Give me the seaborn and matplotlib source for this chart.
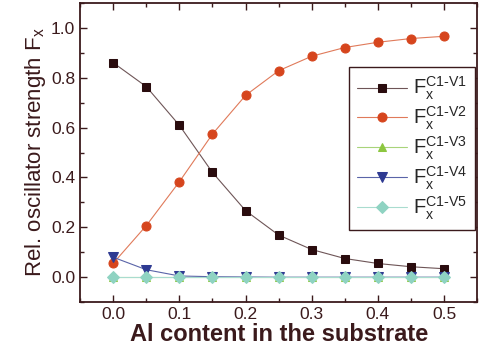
import numpy as np
import pandas as pd
import seaborn as sns
import matplotlib.pyplot as plt
from matplotlib.ticker import MultipleLocator

# Data
al = [0.0, 0.05, 0.1, 0.15, 0.2, 0.25, 0.3, 0.35, 0.4, 0.45, 0.5]
v1 = [0.860, 0.764, 0.609, 0.420, 0.267, 0.169, 0.111, 0.075, 0.055, 0.042, 0.034]
v2 = [0.056, 0.207, 0.383, 0.574, 0.729, 0.828, 0.886, 0.921, 0.942, 0.957, 0.966]
v3 = [0.0, 0.0, 0.0, 0.0, 0.0, 0.0, 0.0, 0.0, 0.0, 0.0, 0.0]
v4 = [0.080, 0.030, 0.005, 0.002, 0.001, 0.0, 0.0, 0.0, 0.0, 0.0, 0.0]
v5 = [0.0, 0.0, 0.0, 0.0, 0.0, 0.0, 0.0, 0.0, 0.0, 0.0, 0.0]

names = [r'$\mathregular{F_x^{C1\text{-}V%d}}$' % i for i in range(1, 6)]
series = [v1, v2, v3, v4, v5]

frames = []
for name, vals in zip(names, series):
    frames.append(pd.DataFrame({'Al': al, 'F': vals, 'band': name}))
data = pd.concat(frames, ignore_index=True)

sns.set_style("ticks")
plt.rcParams['font.family'] = ['Liberation Sans', 'DejaVu Sans']
plt.rcParams['mathtext.fontset'] = 'custom'
plt.rcParams['mathtext.rm'] = 'Liberation Sans'

ink = '#3b1a1c'
marker_cols = ['#2a0c0e', '#d6451d', '#8cc63f', '#2e3a92', '#8fd3c2']
line_cols = ['#6e5557', '#e07a5a', '#a8d47a', '#5a64a8', '#a9dccf']
markers = ['s', 'o', '^', 'v', 'D']
sizes = [5.8, 6.5, 6.0, 7.0, 6.0]

fig, ax = plt.subplots(figsize=(4.8, 3.58), dpi=100)
fig.subplots_adjust(left=0.167, right=0.994, bottom=0.156, top=0.992)

for i, name in enumerate(names):
    sub = data[data['band'] == name]
    sns.lineplot(data=sub, x='Al', y='F', ax=ax, color=line_cols[i], lw=0.8,
                 marker=markers[i], markersize=sizes[i], markerfacecolor=marker_cols[i],
                 markeredgecolor=marker_cols[i], label=name)

ax.set_xlim(-0.05, 0.55)
ax.set_ylim(-0.1, 1.1)
ax.xaxis.set_major_locator(MultipleLocator(0.1))
ax.xaxis.set_minor_locator(MultipleLocator(0.05))
ax.yaxis.set_major_locator(MultipleLocator(0.2))
ax.yaxis.set_minor_locator(MultipleLocator(0.1))
ax.tick_params(which='both', direction='in', top=True, right=True, colors=ink,
               labelcolor=ink, labelsize=12.5, width=1.0)
ax.tick_params(which='major', length=5)
ax.tick_params(which='minor', length=3)
for sp in ax.spines.values():
    sp.set_color(ink)
    sp.set_linewidth(1.3)

ax.set_xlabel('Al content in the substrate', fontsize=17, fontweight='bold', color=ink, labelpad=1)
ax.set_ylabel(r'Rel. oscillator strength F$_\mathregular{x}$', fontsize=16, color=ink, labelpad=2)

leg = ax.legend(loc='upper right', bbox_to_anchor=(0.995, 0.786), borderaxespad=0,
                fontsize=14.5, frameon=True, fancybox=False, edgecolor=ink,
                handlelength=2.5, labelspacing=0.12, borderpad=0.4, handletextpad=0.3,
                framealpha=1)
leg.get_frame().set_linewidth(1.0)

fig.savefig('out.png', dpi=100)
